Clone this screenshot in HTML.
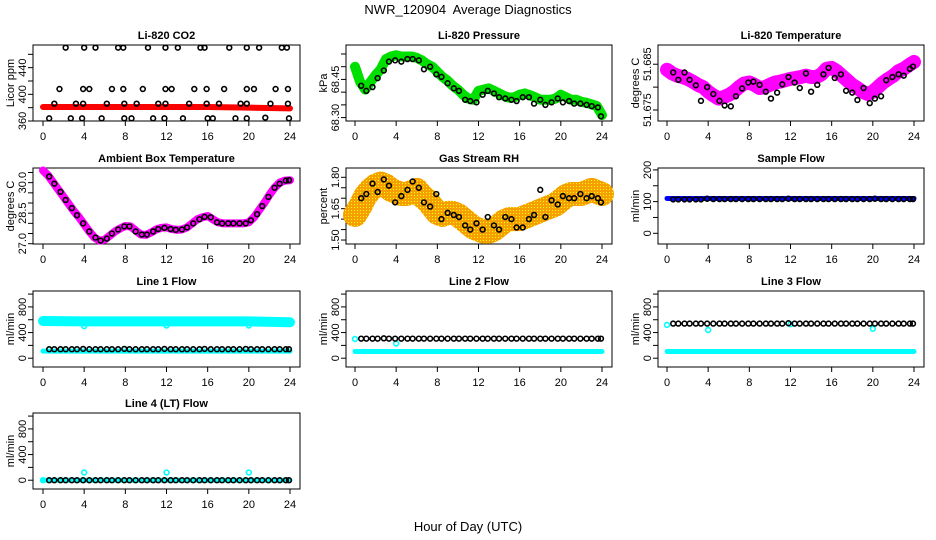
<!DOCTYPE html>
<html><head><meta charset="utf-8"><style>
body{margin:0;background:#fff}
svg{display:block;font-family:"Liberation Sans",sans-serif}
</style></head><body>
<svg id="chart" width="936" height="540" viewBox="0 0 936 540">
<defs>
<pattern id="oy" width="3" height="3" patternUnits="userSpaceOnUse"><rect width="3" height="3" fill="#f5a000"/><rect width="1" height="1" fill="#ff0"/></pattern>
</defs>
<text x="468" y="14" text-anchor="middle" font-size="13">NWR_120904&#160; Average Diagnostics</text>
<text x="468" y="531" text-anchor="middle" font-size="13">Hour of Day (UTC)</text>
</svg>
<script>
// ---- data ----
const bandHours = [0,0.5,1,1.5,2,2.5,3,3.5,4,4.5,5,5.5,6,6.5,7,7.5,8,8.5,9,9.5,10,10.5,11,11.5,12,12.5,13,13.5,14,14.5,15,15.5,16,16.5,17,17.5,18,18.5,19,19.5,20,20.5,21,21.5,22,22.5,23,23.5,24];
const dotHours = [0.6,1.1,1.7,2.2,2.8,3.3,3.9,4.5,5.1,5.6,6.2,6.7,7.3,7.9,8.4,9.0,9.6,10.1,10.7,11.2,11.8,12.4,12.9,13.5,14.0,14.6,15.2,15.7,16.3,16.9,17.4,18.0,18.5,19.1,19.7,20.2,20.8,21.3,21.9,22.5,23.0,23.6,23.9];
const flatHours = [0,4,8,12,16,20,24];
const xTicks = [0,4,8,12,16,20,24];

// CO2
const co2Band = [381,381,381,381,381,380,379];
const co2DotHours = [2.2,4.0,5.1,7.3,7.8,10.2,11.9,13.1,15.3,15.7,18.1,19.8,21.0,23.2,23.7,1.6,3.9,4.5,6.7,7.8,9.7,11.9,12.5,14.7,15.9,17.6,19.8,20.5,22.6,23.8,1.1,3.2,3.9,6.2,7.9,9.1,11.2,11.9,14.2,15.9,17.1,19.2,19.8,22.1,23.8,0.6,2.7,3.8,5.7,7.9,8.6,10.7,11.8,13.6,16.0,16.5,18.7,19.8,21.6,23.9];
const co2DotValues = [470,470,470,470,470,470,470,470,470,470,470,470,470,470,470,408,408,408,408,408,408,408,408,408,408,408,408,408,408,408,386,386,386,386,386,386,386,386,386,386,386,386,386,386,386,364,364,364,364,364,364,364,364,364,364,364,364,364,365,364];
// Pressure
const presBand = [68.50,68.44,68.41,68.44,68.467,68.49,68.53,68.54,68.545,68.54,68.54,68.54,68.535,68.525,68.51,68.50,68.48,68.46,68.445,68.425,68.41,68.39,68.375,68.37,68.405,68.41,68.415,68.405,68.395,68.385,68.378,68.38,68.39,68.395,68.388,68.38,68.37,68.37,68.37,68.375,68.39,68.38,68.37,68.37,68.362,68.358,68.352,68.345,68.31];
const presDots = [68.425,68.405,68.42,68.455,68.485,68.52,68.525,68.52,68.53,68.53,68.525,68.49,68.50,68.47,68.46,68.435,68.415,68.405,68.37,68.365,68.36,68.39,68.405,68.395,68.38,68.375,68.37,68.365,68.38,68.38,68.355,68.37,68.35,68.36,68.375,68.36,68.365,68.355,68.355,68.35,68.345,68.34,68.305];
// Li-820 temperature
const tempBand = [51.6838,51.6830,51.6825,51.6822,51.6818,51.6812,51.6805,51.6800,51.6790,51.6782,51.6775,51.6778,51.6783,51.6790,51.6800,51.6808,51.6810,51.6805,51.6798,51.6800,51.6805,51.6810,51.6812,51.6815,51.6818,51.6820,51.6822,51.6825,51.6822,51.6822,51.6828,51.6840,51.6842,51.6835,51.6825,51.6815,51.6805,51.6798,51.6790,51.6785,51.6790,51.6800,51.6810,51.6818,51.6825,51.6835,51.6840,51.6848,51.6855];
const tempDots = [51.6832,51.6816,51.6832,51.6816,51.6804,51.6770,51.6800,51.6785,51.6770,51.6760,51.6758,51.6780,51.6797,51.6810,51.6812,51.6805,51.6790,51.6775,51.6788,51.6806,51.6822,51.6810,51.6798,51.6830,51.6790,51.6805,51.6828,51.6842,51.6820,51.6828,51.6792,51.6788,51.6772,51.6798,51.6765,51.6775,51.6780,51.6815,51.6822,51.6828,51.6825,51.6840,51.6845];
// Ambient
const ambBand = [30.6,30.35,30.0,29.65,29.3,28.95,28.6,28.3,27.95,27.6,27.3,27.15,27.2,27.4,27.6,27.75,27.87,27.85,27.65,27.45,27.43,27.55,27.7,27.78,27.8,27.72,27.68,27.7,27.8,28.0,28.2,28.3,28.36,28.2,28.05,28.0,28.0,28.0,28.0,28.0,28.05,28.3,28.65,29.0,29.4,29.75,30.0,30.1,30.12];
const ambDots = [30.3,29.95,29.55,29.15,28.75,28.4,28.0,27.6,27.3,27.15,27.25,27.5,27.7,27.85,27.85,27.6,27.45,27.45,27.6,27.72,27.78,27.72,27.68,27.7,27.8,28.0,28.2,28.32,28.3,28.05,28.0,28.0,28.0,28.0,28.0,28.15,28.45,28.85,29.3,29.75,29.95,30.1,30.12];
// RH
const rhBand = [1.62,1.66,1.71,1.74,1.76,1.77,1.76,1.74,1.73,1.72,1.72,1.73,1.74,1.71,1.69,1.66,1.63,1.62,1.63,1.63,1.62,1.60,1.58,1.56,1.55,1.54,1.54,1.55,1.57,1.59,1.60,1.60,1.60,1.61,1.62,1.63,1.64,1.65,1.66,1.67,1.69,1.71,1.72,1.72,1.72,1.73,1.74,1.73,1.72];
const rhDots = [1.70,1.72,1.77,1.73,1.79,1.76,1.68,1.71,1.74,1.78,1.75,1.68,1.66,1.72,1.60,1.63,1.62,1.61,1.57,1.55,1.58,1.55,1.61,1.57,1.55,1.61,1.60,1.56,1.56,1.60,1.62,1.74,1.61,1.69,1.67,1.71,1.70,1.70,1.72,1.70,1.71,1.70,1.68];
// Sample flow
const sampleBand = [110,110,110,110,110,110,110];
const sampleDots = [107,107,107,107,107,107,109,108,108,108,108,108,108,108,108,108,108,108,108,108,109,108,108,108,108,108,108,108,108,108,108,108,108,108,108,109,108,108,108,108,108,108,108];
// Line flows
const l1High = [580,575,575,575,575,575,560];
const l1Low = [110,110,110,110,110,110,110];
const l1Dots = [140,140,140,140,140,140,145,140,140,140,140,140,140,145,140,140,140,140,140,140,145,140,140,140,140,140,140,145,140,140,140,140,140,140,145,140,140,140,140,140,140,140,140];
const l1OutHours = [4,12,20];
const l1OutValues = [500,510,510];
const l2Low = [105,105,105,105,105,105,105];
const l2Dots = [305,305,305,305,310,305,305,305,305,305,305,305,305,305,305,305,305,305,305,305,305,305,305,305,305,305,305,305,305,305,305,305,305,305,305,305,305,305,305,305,305,305,305];
const l2OutHours = [0,4];
const l2OutValues = [300,230];
const l3Low = [105,105,105,105,105,105,105];
const l3Dots = [540,540,540,540,540,540,540,540,540,540,540,540,540,540,540,540,540,540,540,540,545,540,540,540,540,540,540,540,540,540,540,540,540,540,540,540,540,540,540,540,540,540,540];
const l3OutHours = [0,4,12,20];
const l3OutValues = [520,440,530,460];
const l4Low = [0,0,0,0,0,0,0];
const l4Dots = [0,0,0,0,0,0,0,0,0,0,0,0,0,0,0,0,0,0,0,0,0,0,0,0,0,0,0,0,0,0,0,0,0,0,0,0,0,0,0,0,0,0,0];
const l4OutHours = [0,4,12,20];
const l4OutValues = [0,120,120,120];

// ---- layout ----
const svg = document.getElementById('chart');
const NS = 'http://www.w3.org/2000/svg';
const cols = [{l:33,r:300,x0:43,x24:290},{l:346,r:612,x0:355,x24:602},{l:658,r:924,x0:667,x24:914}];
const rowTops = [45,168,291,413];
const H = 76;
function el(tag, attrs, parent){const e=document.createElementNS(NS,tag);for(const k in attrs)e.setAttribute(k,attrs[k]);(parent||svg).appendChild(e);return e;}

function makePanel(col,row,name,title,ylab,dom,ticks,labels){
  const c=cols[col], top=rowTops[row], bot=top+H;
  const g=el('g',{});
  
  
  const xs=h=>c.x0+h*(c.x24-c.x0)/24;
  const ys=v=>bot-(v-dom[0])/(dom[1]-dom[0])*H;
  const t=el('text',{x:(c.l+c.r)/2,y:top-6,'text-anchor':'middle','font-size':11,'font-weight':'bold'},g);
  t.textContent=title;
  
  
  const yl=el('text',{transform:`translate(${c.l-19},${top+H/2}) rotate(-90)`,'text-anchor':'middle','font-size':11},g);
  yl.textContent=ylab;
  
  
  const xa=el('g',{},g);
  
  
  el('line',{x1:xs(0),x2:xs(24),y1:bot,y2:bot,stroke:'#000'},xa);
  xTicks.forEach(h=>{
    el('line',{x1:xs(h),x2:xs(h),y1:bot,y2:bot+5,stroke:'#000'},xa);
    const tl=el('text',{x:xs(h),y:bot+19,'text-anchor':'middle','font-size':11},xa);
    tl.textContent=h;
    
    
  });
  const ya=el('g',{},g);
  
  
  ticks.forEach(v=>{el('line',{x1:c.l-5,x2:c.l,y1:ys(v),y2:ys(v),stroke:'#000'},ya);});
  labels.forEach(v=>{
    const tl=el('text',{transform:`translate(${c.l-7},${ys(v)}) rotate(-90)`,'text-anchor':'middle','font-size':11},ya);
    tl.textContent=v;
    
    
  });
  const box=el('rect',{x:c.l,y:top,width:c.r-c.l,height:H,fill:'none',stroke:'#000'},g);
  
  
  return {g,xs,ys};
}
function band(p,hours,vals,stroke,w,name){
  const pl=el('polyline',{points:hours.map((h,i)=>p.xs(h)+','+p.ys(vals[i])).join(' '),fill:'none',stroke:stroke,'stroke-width':w,'stroke-linecap':'round','stroke-linejoin':'round'},p.g);
  
  
}
function dots(p,hours,vals,color,name){
  const gg=el('g',{},p.g);
  
  
  hours.forEach((h,i)=>{
    const ci=el('circle',{cx:p.xs(h),cy:p.ys(vals[i]),r:2.4,fill:'none',stroke:color,'stroke-width':1.6},gg);
    
    
  });
}

let p;
p=makePanel(0,0,'co2','Li-820 CO2','Licor ppm',[360,474],[360,380,400,420,440,460],[360,400,440]);
band(p,flatHours,co2Band,'#f00',6,'co2-band');
dots(p,co2DotHours,co2DotValues,'#000','co2-points');

p=makePanel(1,0,'pressure','Li-820 Pressure','kPa',[68.2866,68.5853],[68.30,68.35,68.40,68.45,68.50,68.55],['68.30','68.45']);
band(p,bandHours,presBand,'#00e000',10,'pressure-band');
dots(p,dotHours,presDots,'#000','pressure-points');

p=makePanel(2,0,'li820-temp','Li-820 Temperature','degrees C',[51.6726,51.6892],[51.675,51.680,51.685],['51.675','51.685']);
band(p,bandHours,tempBand,'#f0f',14,'temperature-band');
dots(p,dotHours,tempDots,'#000','temperature-points');

p=makePanel(0,1,'ambient','Ambient Box Temperature','degrees C',[26.985,30.72],[27.0,27.5,28.0,28.5,29.0,29.5,30.0,30.5],['27.0','28.5','30.0']);
band(p,bandHours,ambBand,'#f0f',8,'ambient-band');
dots(p,dotHours,ambDots,'#000','ambient-points');

p=makePanel(1,1,'rh','Gas Stream RH','percent',[1.481,1.8445],[1.50,1.55,1.60,1.65,1.70,1.75,1.80],['1.50','1.65','1.80']);
band(p,bandHours,rhBand,'url(#oy)',24,'rh-band');
dots(p,dotHours,rhDots,'#000','rh-points');

p=makePanel(2,1,'sample-flow','Sample Flow','ml/min',[-33.7,206],[0,50,100,150,200],[0,100,200]);
band(p,flatHours,sampleBand,'#00f',5,'sample-band');
dots(p,dotHours,sampleDots,'#000','sample-points');

const flowDom=[-137,1048], flowTicks=[0,200,400,600,800,1000], flowLabels=[0,400,800];
p=makePanel(0,2,'line1','Line 1 Flow','ml/min',flowDom,flowTicks,flowLabels);
band(p,flatHours,l1High,'#0ff',10,'line1-high-band');
band(p,flatHours,l1Low,'#0ff',5,'line1-low-band');
dots(p,l1OutHours,l1OutValues,'#0ff','line1-outliers');
dots(p,dotHours,l1Dots,'#000','line1-points');

p=makePanel(1,2,'line2','Line 2 Flow','ml/min',flowDom,flowTicks,flowLabels);
band(p,flatHours,l2Low,'#0ff',5,'line2-low-band');
dots(p,l2OutHours,l2OutValues,'#0ff','line2-outliers');
dots(p,dotHours,l2Dots,'#000','line2-points');

p=makePanel(2,2,'line3','Line 3 Flow','ml/min',flowDom,flowTicks,flowLabels);
band(p,flatHours,l3Low,'#0ff',5,'line3-low-band');
dots(p,l3OutHours,l3OutValues,'#0ff','line3-outliers');
dots(p,dotHours,l3Dots,'#000','line3-points');

p=makePanel(0,3,'line4','Line 4 (LT) Flow','ml/min',flowDom,flowTicks,flowLabels);
band(p,flatHours,l4Low,'#0ff',5,'line4-low-band');
dots(p,l4OutHours,l4OutValues,'#0ff','line4-outliers');
dots(p,dotHours,l4Dots,'#000','line4-points');
</script>
</body></html>
